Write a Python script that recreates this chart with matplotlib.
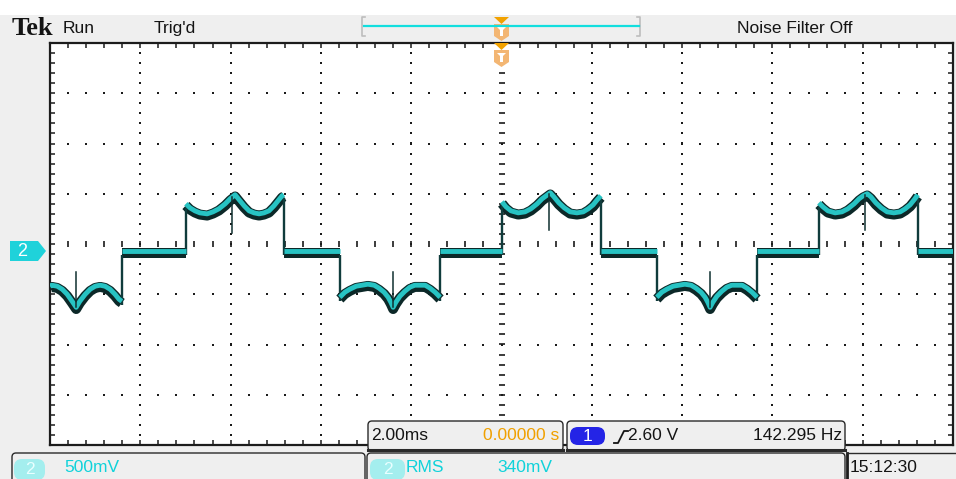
import numpy as np
import matplotlib
matplotlib.use("Agg")
import matplotlib.pyplot as plt
from matplotlib.patches import Rectangle, FancyBboxPatch, Polygon
from matplotlib.ticker import MultipleLocator

W, H = 956, 479

# ---------------- channel 2 trace: time in ms, level in volts ----------------
low_a_t = [0.00, 0.04, 0.16, 0.27, 0.38, 0.49, 0.58, 0.66, 0.78, 0.89, 1.00,
           1.11, 1.22, 1.33, 1.44, 1.53, 1.59]
low_a_v = [-0.42, -0.41, -0.42, -0.45, -0.50, -0.57, -0.63, -0.57, -0.50, -0.45,
           -0.42, -0.41, -0.42, -0.45, -0.50, -0.55, -0.57]

high_a_t = [3.01, 3.10, 3.21, 3.32, 3.48, 3.61, 3.74, 3.88, 3.99, 4.10, 4.19,
            4.30, 4.41, 4.52, 4.63, 4.74, 4.85, 4.96, 5.05, 5.14, 5.18]
high_a_v = [0.40, 0.36, 0.33, 0.31, 0.30, 0.32, 0.35, 0.40, 0.45, 0.49, 0.44,
            0.38, 0.33, 0.31, 0.30, 0.31, 0.33, 0.38, 0.43, 0.48, 0.49]

low_b_t = [6.42, 6.53, 6.64, 6.78, 6.91, 7.04, 7.18, 7.29, 7.40, 7.49, 7.55,
           7.60, 7.66, 7.75, 7.86, 7.97, 8.08, 8.20, 8.31, 8.42, 8.53, 8.64]
low_b_v = [-0.53, -0.48, -0.45, -0.42, -0.41, -0.40, -0.41, -0.44, -0.48, -0.53,
           -0.58, -0.63, -0.58, -0.52, -0.47, -0.43, -0.41, -0.41, -0.41, -0.44,
           -0.48, -0.53]

high_b_t = [10.01, 10.10, 10.21, 10.37, 10.52, 10.65, 10.79, 10.90, 10.99, 11.08,
            11.16, 11.27, 11.39, 11.52, 11.67, 11.81, 11.92, 12.03, 12.12, 12.20]
high_b_v = [0.42, 0.37, 0.33, 0.31, 0.32, 0.35, 0.40, 0.45, 0.48, 0.51,
            0.47, 0.41, 0.36, 0.32, 0.31, 0.32, 0.35, 0.39, 0.44, 0.48]

low_c_t = [13.44, 13.55, 13.66, 13.80, 13.93, 14.06, 14.20, 14.31, 14.42, 14.51,
           14.57, 14.62, 14.68, 14.77, 14.88, 14.99, 15.10, 15.22, 15.33, 15.44,
           15.55, 15.66]
low_c_v = [-0.53, -0.48, -0.45, -0.42, -0.41, -0.40, -0.41, -0.44, -0.48, -0.53,
           -0.58, -0.63, -0.58, -0.52, -0.47, -0.43, -0.41, -0.41, -0.41, -0.44,
           -0.48, -0.53]

high_c_t = [17.03, 17.12, 17.23, 17.39, 17.54, 17.67, 17.81, 17.92, 18.01, 18.10,
            18.18, 18.29, 18.41, 18.54, 18.69, 18.83, 18.94, 19.05, 19.14, 19.22]
high_c_v = [0.41, 0.37, 0.33, 0.31, 0.32, 0.35, 0.40, 0.45, 0.48, 0.50,
            0.47, 0.41, 0.36, 0.32, 0.31, 0.32, 0.35, 0.39, 0.44, 0.49]

# flat (ground-level) stretches between the steps
zero_start = [1.59, 5.18, 8.64, 12.20, 15.66, 19.22]
zero_end = [3.01, 6.42, 10.01, 13.44, 17.03, 20.00]
zero_level = -0.07

# narrow glitches at the ripple cusps
spike_t = [0.58, 4.03, 7.60, 11.05, 14.62, 18.05]
spike_base = [-0.63, 0.47, -0.63, 0.50, -0.63, 0.49]
spike_tip = [-0.28, 0.11, -0.28, 0.14, -0.28, 0.14]

# ---------------- figure layout (pixel-based) ----------------
BG = "#efefef"
fig = plt.figure(figsize=(W / 100, H / 100), dpi=100, facecolor=BG)

bg = fig.add_axes([0, 0, 1, 1], zorder=0)
bg.set_xlim(0, W)
bg.set_ylim(H, 0)
bg.axis("off")
bg.add_patch(Rectangle((0, 0), W, 15, facecolor="white", edgecolor="none"))

GX0, GX1, GY0, GY1 = 50, 953, 43, 445
ax = fig.add_axes([GX0 / W, (H - GY1) / H, (GX1 - GX0) / W, (GY1 - GY0) / H], zorder=1)
ax.set_xlim(0, 20)
ax.set_ylim(-2, 2)
ax.set_facecolor("white")

# graticule border and ticks
for sp in ax.spines.values():
    sp.set_color("#1c1c1c")
    sp.set_linewidth(1.6)
ax.xaxis.set_major_locator(MultipleLocator(2))
ax.xaxis.set_minor_locator(MultipleLocator(0.4))
ax.yaxis.set_major_locator(MultipleLocator(0.5))
ax.yaxis.set_minor_locator(MultipleLocator(0.1))
ax.tick_params(which="both", direction="in", length=3.4, width=1.1, color="#1c1c1c",
               top=True, right=True, bottom=True, left=True,
               labelbottom=False, labelleft=False)

# graticule dots
xmaj = np.arange(2, 20, 2)
xmin = np.arange(0.4, 20, 0.4)
ymaj = np.arange(-1.5, 2.0, 0.5)
ymin = np.arange(-1.9, 2.0, 0.1)
dots_x, dots_y = [], []
for xv in xmaj:
    if abs(xv - 10) < 1e-6:
        continue
    for yv in ymin:
        dots_x.append(xv)
        dots_y.append(yv)
for yv in ymaj:
    if abs(yv) < 1e-6:
        continue
    for xv in xmin:
        dots_x.append(xv)
        dots_y.append(yv)
ax.scatter(dots_x, dots_y, marker="s", s=2.2, color="#1a1a1a", linewidths=0, zorder=1)

# centre cross with small dashes
ax.plot(np.full_like(ymin, 10.0), ymin, linestyle="none", marker="_", markersize=5,
        markeredgewidth=1.2, color="#1a1a1a", zorder=1)
ax.plot(xmin, np.zeros_like(xmin), linestyle="none", marker="|", markersize=4,
        markeredgewidth=1.2, color="#1a1a1a", zorder=1)

# assemble the trace in time order
pieces = [(low_a_t, low_a_v)]
highs = [(high_a_t, high_a_v), (high_b_t, high_b_v), (high_c_t, high_c_v)]
lows = [(low_b_t, low_b_v), (low_c_t, low_c_v)]
flat = [([a, b], [zero_level, zero_level]) for a, b in zip(zero_start, zero_end)]
order = [flat[0], highs[0], flat[1], lows[0], flat[2], highs[1], flat[3], lows[1],
         flat[4], highs[2], flat[5]]
pieces += order

HALO = "#0c2828"
CYAN = "#27c3c3"
for t, v in pieces:
    ax.plot(t, np.asarray(v) - 0.017, color=HALO, lw=7.2, solid_capstyle="butt",
            solid_joinstyle="round", zorder=3)
for (t0, v0), (t1, v1) in zip(pieces[:-1], pieces[1:]):
    ax.plot([t0[-1], t1[0]], [v0[-1] - 0.035, v1[0] - 0.035], color="#103c3c", lw=1.7,
            solid_capstyle="butt", zorder=4)
for t, v in pieces:
    ax.plot(t, v, color=CYAN, lw=3.5, solid_capstyle="butt",
            solid_joinstyle="round", zorder=5)
for st, sb, sk in zip(spike_t, spike_base, spike_tip):
    ax.plot([st, st], [sb, sk], color="#103030", lw=1.1, zorder=6)

# ---------------- foreground annotations ----------------
fg = fig.add_axes([0, 0, 1, 1], zorder=2)
fg.set_xlim(0, W)
fg.set_ylim(H, 0)
fg.axis("off")

UI = "Liberation Sans"
FS = 12.5

# header
fg.text(12, 35, "Tek", family="Liberation Serif", weight="bold", fontsize=19,
        color="#141414", va="baseline")
fg.text(63, 28, "Run", family=UI, fontsize=FS, color="#141414", va="center")
fg.text(154, 28, "Trig'd", family=UI, fontsize=FS, color="#141414", va="center")
fg.text(737, 28, "Noise Filter Off", family=UI, fontsize=FS, color="#141414",
        va="center")

# trigger position bar
fg.plot([365, 362, 362, 365], [17, 17, 36, 36], color="#bdbdbd", lw=1.2)
fg.plot([637, 640, 640, 637], [17, 17, 36, 36], color="#bdbdbd", lw=1.2)
fg.plot([364, 639], [26, 26], color="#12dede", lw=1.6)

def trigger_marker(y0):
    fg.add_patch(Polygon([(494, y0), (509, y0), (501.5, y0 + 7)], closed=True,
                         facecolor="#f2a200", edgecolor="none"))
    fg.add_patch(Polygon([(494, y0 + 7), (509, y0 + 7), (509, y0 + 19),
                          (501.5, y0 + 24), (494, y0 + 19)], closed=True,
                         facecolor="#f3b673", edgecolor="none"))
    fg.add_patch(Polygon([(497, y0 + 10), (506, y0 + 10), (503, y0 + 13),
                          (503, y0 + 19), (500, y0 + 19), (500, y0 + 13)],
                         closed=True, facecolor="white", edgecolor="none"))

trigger_marker(17)
trigger_marker(43)

# channel 2 ground marker
fg.add_patch(Polygon([(10, 241), (38, 241), (46, 251), (38, 261), (10, 261)],
                     closed=True, facecolor="#1fd2da", edgecolor="none"))
fg.text(22, 251.5, "2", family=UI, fontsize=13, color="white", ha="center",
        va="center")

def box(x0, y0, x1, y1, lw=1.0):
    fg.add_patch(FancyBboxPatch((x0, y0), x1 - x0, y1 - y0,
                                boxstyle="round,pad=0,rounding_size=4",
                                facecolor=BG, edgecolor="#2a2a2a", lw=lw))

def pill(x0, y0, x1, y1, color, label, tcolor):
    fg.add_patch(FancyBboxPatch((x0, y0), x1 - x0, y1 - y0,
                                boxstyle="round,pad=0,rounding_size=8",
                                facecolor=color, edgecolor="none"))
    fg.text((x0 + x1) / 2, (y0 + y1) / 2 + 0.5, label, family=UI, fontsize=FS,
            color=tcolor, ha="center", va="center")

# timebase / trigger readouts
box(368, 421, 563, 451)
fg.plot([368, 563], [450, 450], color="#2a2a2a", lw=2.2)
fg.text(371, 436, "2.00ms", family=UI, fontsize=FS, color="#141414", va="center")
fg.text(559, 436, "0.00000 s", family=UI, fontsize=FS, color="#f0a000", va="center",
        ha="right")

box(567, 421, 845, 451)
fg.plot([567, 845], [450, 450], color="#2a2a2a", lw=2.2)
pill(570, 427, 605, 445, "#2424e6", "1", "white")
fg.plot([614, 618, 624, 628], [443, 443, 431, 431], color="#141414", lw=1.3)
fg.text(628, 436, "2.60 V", family=UI, fontsize=FS, color="#141414", va="center")
fg.text(842, 436, "142.295 Hz", family=UI, fontsize=FS, color="#141414",
        va="center", ha="right")

# bottom status row
box(12, 453, 365, 485)
pill(14, 459, 45, 480, "#a4eeee", "2", "#e9ffff")
fg.text(64, 468, "500mV", family=UI, fontsize=FS, color="#10d2da", va="center")

box(367, 453, 845, 485)
pill(370, 459, 405, 480, "#a4eeee", "2", "#e9ffff")
fg.text(406, 468, "RMS", family=UI, fontsize=FS, color="#10d2da", va="center")
fg.text(497, 468, "340mV", family=UI, fontsize=FS, color="#10d2da", va="center")

fg.plot([847, 847], [453, 479], color="#1c1c1c", lw=2.0)
fg.plot([847, 956], [453, 453], color="#2a2a2a", lw=1.0)
fg.text(850, 468, "15:12:30", family=UI, fontsize=FS, color="#141414", va="center")

fig.savefig("out.png", dpi=100, facecolor=BG)
